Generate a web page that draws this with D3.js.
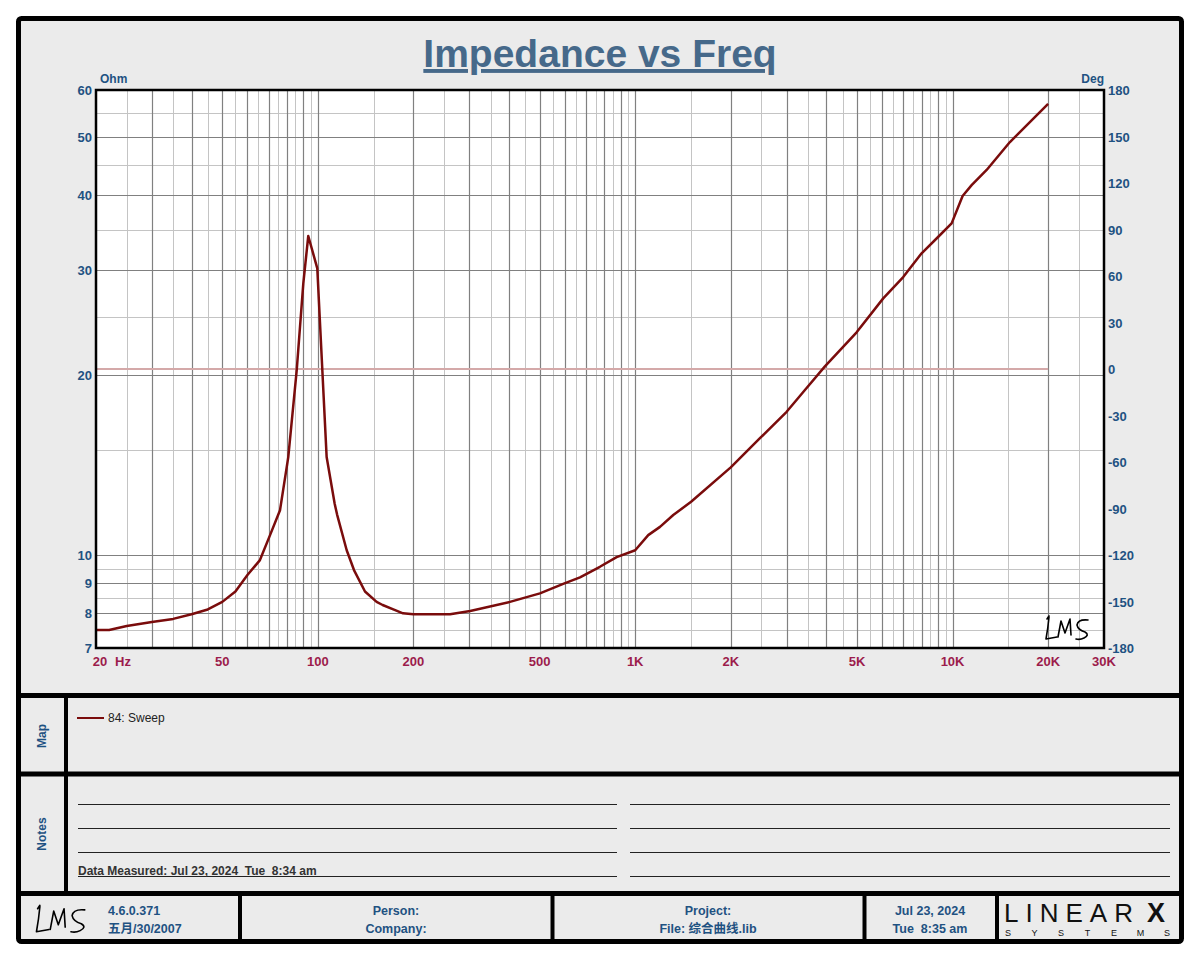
<!DOCTYPE html>
<html>
<head>
<meta charset="utf-8">
<title>Impedance vs Freq</title>
<style>
  body { margin: 0; background: #fff; }
  text { font-family: "Liberation Sans", Arial, "Noto Sans CJK SC", sans-serif; }
</style>
</head>
<body>
<div id="chart"></div>
<script src="https://d3js.org/d3.v7.min.js"></script>
<script>
// impedance curve (Hz, Ohm)
const freq = [20, 22, 25, 30, 35, 40, 45, 50, 55, 60, 65.7, 70.7, 76, 80.7, 85.8, 90, 93.3,
  99.6, 106.6, 113, 115, 123.3, 130, 140.8, 153.2, 160, 172.9, 185.5, 200, 261, 302, 403,
  501, 593, 670, 774, 874, 1000, 1099, 1197, 1318, 1500, 2000, 2472, 3000, 3426, 3961, 4985,
  6046, 6990, 7988, 9016, 9931, 10755, 11482, 12803, 15160, 20000];
const ohm = [7.5, 7.5, 7.62, 7.74, 7.83, 7.97, 8.12, 8.36, 8.7, 9.27, 9.82, 10.81, 11.9, 14.6, 20.4, 28.5, 34.2,
  30.2, 14.6, 12.2, 11.7, 10.2, 9.45, 8.7, 8.36, 8.26, 8.12, 8.0, 7.97, 7.97, 8.07, 8.36,
  8.64, 8.96, 9.19, 9.57, 9.93, 10.2, 10.81, 11.16, 11.68, 12.29, 14.03, 15.7, 17.38, 18.9, 20.7, 23.6,
  26.9, 29.2, 32.0, 34.1, 35.9, 39.9, 41.6, 44.1, 49.1, 56.9];

// phase trace (Deg)
const phaseFreq = [20, 20000];
const phaseDeg = [0, 0];

// axis ticks
const xTicks = [50, 100, 200, 500, 1000, 2000, 5000, 10000, 20000, 30000];
const xTickLabels = ['50', '100', '200', '500', '1K', '2K', '5K', '10K', '20K', '30K'];
const yTicks = [7, 8, 9, 10, 20, 30, 40, 50, 60];
const yMinor = [7.5, 8.5, 9.5, 15, 25, 35, 45, 55];
const degTicks = [-180, -150, -120, -90, -60, -30, 0, 30, 60, 90, 120, 150, 180];

const W = 1200, H = 960;
const plot = {left: 96, right: 1104, top: 90, bottom: 648};

const blue = '#1f5282';
const red = '#9c1c4c';
const trace = '#7a0c0c';

const svg = d3.select('#chart').append('svg')
  .attr('width', W).attr('height', H);

// frame + panels
svg.append('rect')
  .attr('x', 18.5).attr('y', 18.5).attr('width', 1163).attr('height', 923)
  .attr('rx', 3)
  .attr('fill', '#ebebeb').attr('stroke', '#000').attr('stroke-width', 5);

[695.5, 774, 893.5].forEach(y => {
  svg.append('line').attr('x1', 18).attr('x2', 1182).attr('y1', y).attr('y2', y)
    .attr('stroke', '#000').attr('stroke-width', 5);
});
svg.append('line').attr('x1', 66).attr('x2', 66).attr('y1', 697).attr('y2', 892)
  .attr('stroke', '#000').attr('stroke-width', 4);
[240, 552.5, 864.5, 997].forEach(x => {
  svg.append('line').attr('x1', x).attr('x2', x).attr('y1', 895).attr('y2', 940)
    .attr('stroke', '#000').attr('stroke-width', 4);
});

// title
svg.append('text')
  .attr('x', 600).attr('y', 67)
  .attr('text-anchor', 'middle')
  .attr('font-size', 39).attr('font-weight', 'bold')
  .attr('fill', '#46698a')
  .attr('text-decoration', 'underline')
  .text('Impedance vs Freq');

// scales
const x = d3.scaleLog().domain([20, 30000]).range([plot.left, plot.right]);
const y = d3.scaleLog().domain([7, 60]).range([plot.bottom, plot.top]);
const yDeg = d3.scaleLinear().domain([-180, 180]).range([plot.bottom, plot.top]);

svg.append('rect')
  .attr('x', plot.left).attr('y', plot.top)
  .attr('width', plot.right - plot.left).attr('height', plot.bottom - plot.top)
  .attr('fill', '#fff');

// grid
const xMajor = [], xMinorV = [];
[10, 100, 1000, 10000].forEach(dec => {
  for (let m = 1; m <= 9; m++) {
    if (m * dec > 20 && m * dec < 30000) xMajor.push(m * dec);
    if ((m + 0.5) * dec > 20 && (m + 0.5) * dec < 30000 && m < 9) xMinorV.push((m + 0.5) * dec);
  }
});
xMinorV.push(9.5 * 10, 9.5 * 100, 9.5 * 1000);

const grid = svg.append('g');
grid.selectAll('.xminor').data(xMinorV).enter().append('line')
  .attr('x1', d => Math.round(x(d)) + 0.5).attr('x2', d => Math.round(x(d)) + 0.5)
  .attr('y1', plot.top).attr('y2', plot.bottom)
  .attr('stroke', '#c4c4c4').attr('stroke-width', 1);
grid.selectAll('.yminor').data(yMinor).enter().append('line')
  .attr('y1', d => Math.round(y(d)) + 0.5).attr('y2', d => Math.round(y(d)) + 0.5)
  .attr('x1', plot.left).attr('x2', plot.right)
  .attr('stroke', '#c4c4c4').attr('stroke-width', 1);
grid.selectAll('.xmajor').data(xMajor).enter().append('line')
  .attr('x1', d => Math.round(x(d)) + 0.5).attr('x2', d => Math.round(x(d)) + 0.5)
  .attr('y1', plot.top).attr('y2', plot.bottom)
  .attr('stroke', '#808080').attr('stroke-width', 1.2);
grid.selectAll('.ymajor').data(yTicks.slice(1, -1)).enter().append('line')
  .attr('y1', d => Math.round(y(d)) + 0.5).attr('y2', d => Math.round(y(d)) + 0.5)
  .attr('x1', plot.left).attr('x2', plot.right)
  .attr('stroke', '#808080').attr('stroke-width', 1.2);

// phase trace
svg.append('path')
  .datum(phaseFreq.map((f, i) => [f, phaseDeg[i]]))
  .attr('fill', 'none')
  .attr('stroke', '#d4a9a9').attr('stroke-width', 2)
  .attr('d', d3.line().x(d => x(d[0])).y(d => yDeg(d[1])));

// impedance trace
svg.append('path')
  .datum(freq.map((f, i) => [f, ohm[i]]))
  .attr('fill', 'none')
  .attr('stroke', trace).attr('stroke-width', 2.5)
  .attr('stroke-linejoin', 'round')
  .attr('d', d3.line().x(d => x(d[0])).y(d => y(d[1])));

// plot border
svg.append('rect')
  .attr('x', plot.left).attr('y', plot.top)
  .attr('width', plot.right - plot.left).attr('height', plot.bottom - plot.top)
  .attr('fill', 'none').attr('stroke', '#000').attr('stroke-width', 2.5);

// left axis labels
svg.append('g').selectAll('text').data(yTicks).enter().append('text')
  .attr('x', 92).attr('y', d => y(d) + 5)
  .attr('text-anchor', 'end')
  .attr('font-size', 13).attr('font-weight', 'bold').attr('fill', blue)
  .text(d => d);

// right axis labels
svg.append('g').selectAll('text').data(degTicks).enter().append('text')
  .attr('x', 1108).attr('y', d => yDeg(d) + 5)
  .attr('font-size', 13).attr('font-weight', 'bold').attr('fill', blue)
  .text(d => d);

svg.append('text').attr('x', 100).attr('y', 83)
  .attr('font-size', 12).attr('font-weight', 'bold').attr('fill', blue).text('Ohm');
svg.append('text').attr('x', 1104).attr('y', 83).attr('text-anchor', 'end')
  .attr('font-size', 12).attr('font-weight', 'bold').attr('fill', blue).text('Deg');

// bottom axis labels
svg.append('g').selectAll('text').data(xTicks).enter().append('text')
  .attr('x', d => x(d)).attr('y', 666)
  .attr('text-anchor', 'middle')
  .attr('font-size', 13).attr('font-weight', 'bold').attr('fill', red)
  .text((d, i) => xTickLabels[i]);
svg.append('text').attr('x', 100).attr('y', 666).attr('text-anchor', 'middle')
  .attr('font-size', 13).attr('font-weight', 'bold').attr('fill', red).text('20');
svg.append('text').attr('x', 115).attr('y', 666)
  .attr('font-size', 13).attr('font-weight', 'bold').attr('fill', red).text('Hz');

// handwritten LMS mark
function lms(g, tx, ty, s) {
  const p = g.append('g').attr('transform', `translate(${tx},${ty}) scale(${s})`)
    .attr('fill', 'none').attr('stroke', '#000').attr('stroke-width', 1.6 / s)
    .attr('stroke-linecap', 'round').attr('stroke-linejoin', 'round');
  p.append('path').attr('d', 'M6,2 L4,5 M6,3 Q5,14 3,25 L14,23');
  p.append('path').attr('d', 'M15,23 L18,7 L22,19 L27,5 L28,21');
  p.append('path').attr('d', 'M45,6 Q35,5 34,11 Q35,16 42,18 Q47,21 41,24 Q37,26 33,25');
}
lms(svg, 1043, 614, 1.0);
lms(svg, 33, 903, 1.15);

// map panel
svg.append('text')
  .attr('transform', 'translate(46,736) rotate(-90)')
  .attr('text-anchor', 'middle')
  .attr('font-size', 12).attr('font-weight', 'bold').attr('fill', blue)
  .text('Map');
svg.append('line').attr('x1', 77).attr('x2', 104).attr('y1', 718).attr('y2', 718)
  .attr('stroke', trace).attr('stroke-width', 2);
svg.append('text').attr('x', 108).attr('y', 722)
  .attr('font-size', 12).attr('fill', '#222').text('84: Sweep');

// notes panel
svg.append('text')
  .attr('transform', 'translate(46,834) rotate(-90)')
  .attr('text-anchor', 'middle')
  .attr('font-size', 12).attr('font-weight', 'bold').attr('fill', blue)
  .text('Notes');
[804.5, 828.5, 852.5, 876.5].forEach(ly => {
  svg.append('line').attr('x1', 78).attr('x2', 617).attr('y1', ly).attr('y2', ly)
    .attr('stroke', '#222').attr('stroke-width', 1);
  svg.append('line').attr('x1', 630).attr('x2', 1170).attr('y1', ly).attr('y2', ly)
    .attr('stroke', '#222').attr('stroke-width', 1);
});
svg.append('text').attr('x', 78).attr('y', 875)
  .attr('font-size', 12).attr('font-weight', 'bold').attr('fill', '#333')
  .style('white-space', 'pre')
  .text('Data Measured: Jul 23, 2024  Tue  8:34 am');

// footer
const foot = [
  {x: 108, a: 'start', l1: '4.6.0.371', l2: '五月/30/2007'},
  {x: 396, a: 'middle', l1: 'Person:', l2: 'Company:'},
  {x: 708, a: 'middle', l1: 'Project:', l2: 'File: 综合曲线.lib'},
  {x: 930, a: 'middle', l1: 'Jul 23, 2024', l2: 'Tue  8:35 am'}
];
foot.forEach(f => {
  svg.append('text').attr('x', f.x).attr('y', 915).attr('text-anchor', f.a)
    .attr('font-size', 12.5).attr('font-weight', 'bold').attr('fill', blue)
    .style('white-space', 'pre').text(f.l1);
  svg.append('text').attr('x', f.x).attr('y', 933).attr('text-anchor', f.a)
    .attr('font-size', 12.5).attr('font-weight', 'bold').attr('fill', blue)
    .style('white-space', 'pre').text(f.l2);
});

// LinearX logo
const logo = svg.append('g');
logo.append('text').attr('x', 1004).attr('y', 922)
  .attr('font-family', '"Liberation Serif", "DejaVu Serif", serif')
  .attr('font-size', 26).attr('fill', '#111')
  .attr('letter-spacing', 7)
  .text('LINEAR');
logo.append('text').attr('x', 1147).attr('y', 922)
  .attr('font-family', '"Liberation Sans", Arial, sans-serif')
  .attr('font-size', 27).attr('font-weight', 'bold').attr('fill', '#111')
  .text('X');
'SYSTEMS'.split('').forEach((c, i) => {
  logo.append('text').attr('x', 1008 + i * 26.5).attr('y', 936)
    .attr('text-anchor', 'middle')
    .attr('font-size', 9).attr('fill', '#111')
    .text(c);
});
</script>
</body>
</html>
